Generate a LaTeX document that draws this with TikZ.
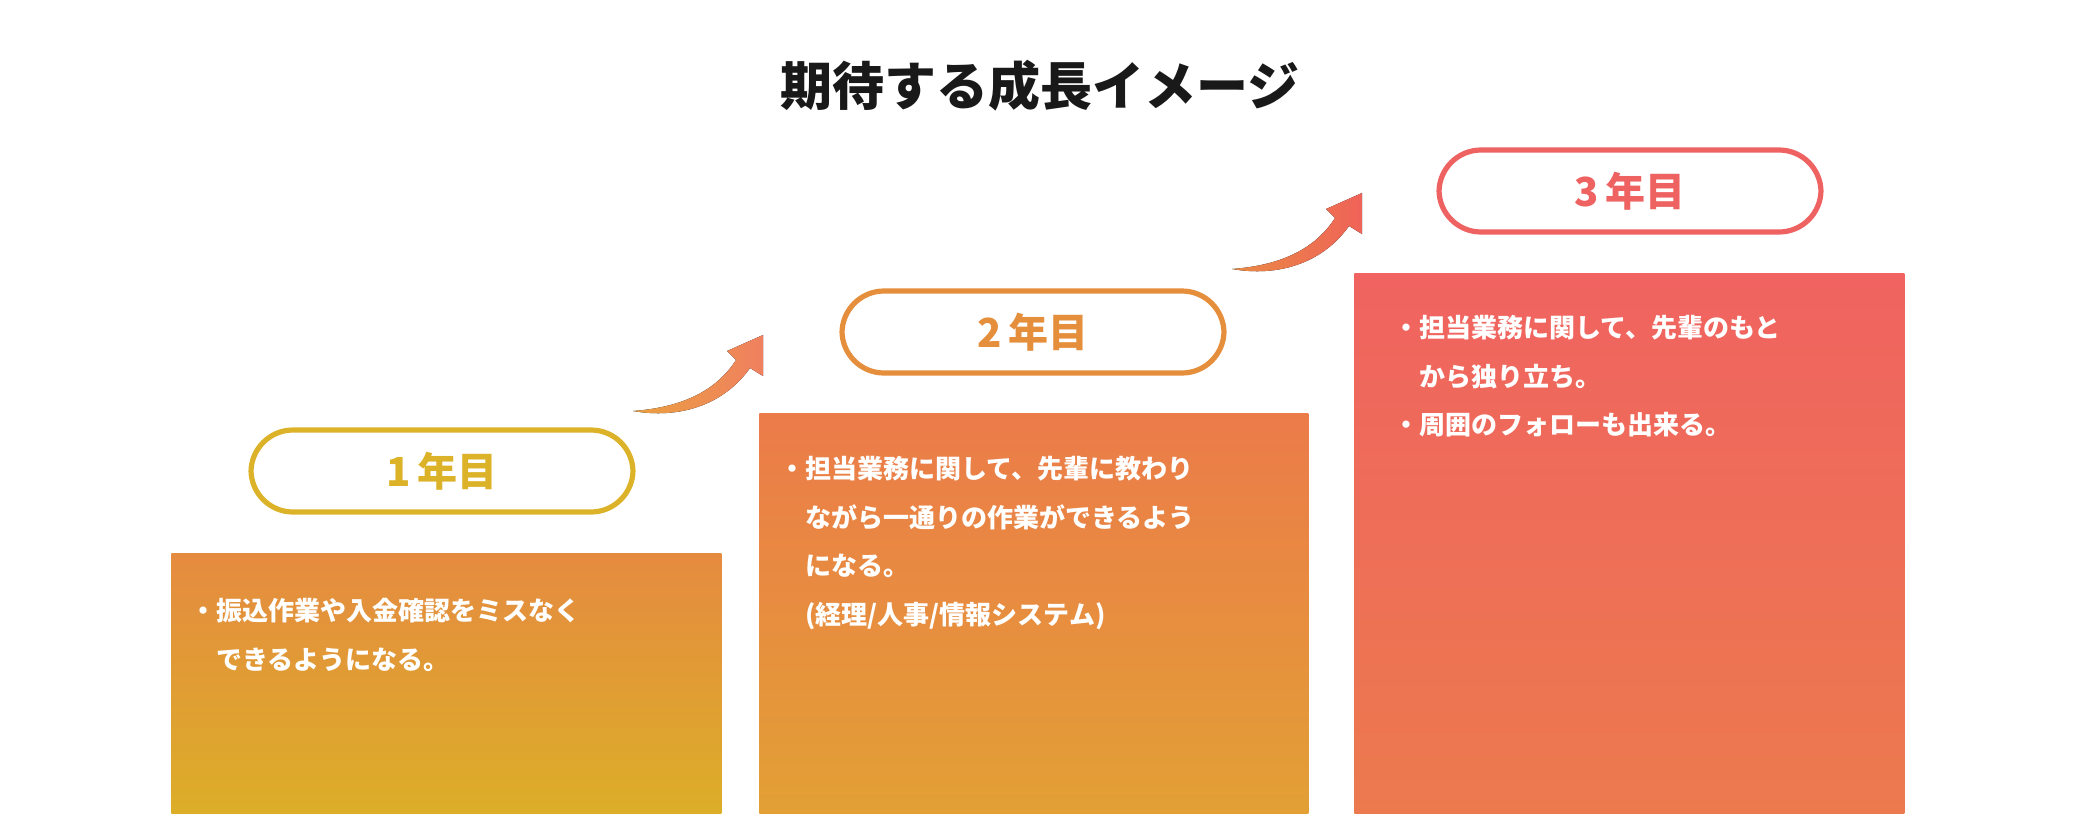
\documentclass[tikz,border=0pt]{standalone}
\usepackage{fontspec}
\setmainfont{Noto Sans CJK JP}
\usetikzlibrary{positioning}
\definecolor{yOne}{HTML}{DCB228}
\definecolor{yTwo}{HTML}{E58E3C}
\definecolor{yThree}{HTML}{EE6262}
\tikzset{
  pill/.style={draw, line width=2.6pt, fill=white, rounded corners=21pt, minimum width=191pt, minimum height=41pt, font=\fontsize{20pt}{20pt}\selectfont\bfseries},
  stepbox/.style={anchor=north west, inner sep=0pt, shade},
  boxtext/.style={anchor=north west, inner sep=0pt, text=white, align=left, font=\fontsize{13pt}{24.3pt}\selectfont\bfseries},
}
\newcommand{\growarrow}[3]{% tail, left colour, right colour
  \begin{scope}[shift={#1}]
    \fill[left color=#2, right color=#3] (0,0) .. controls (45,8) and (90,-5) .. (117,-43)
      -- (130,-35) -- (130,-76) -- (94,-60) -- (103,-51)
      .. controls (80,-15) and (40,-3) .. (0,0) -- cycle;
  \end{scope}}
\begin{document}
\begin{tikzpicture}[x=0.5pt,y=-0.5pt]
  \useasboundingbox (0,0) rectangle (2078,814);

  \node[font=\fontsize{26pt}{26pt}\selectfont\bfseries, text=black!90] (title) at (1040,86) {期待する成長イメージ};

  % steps
  \node[stepbox, top color={rgb,255:red,229;green,139;blue,64}, bottom color={rgb,255:red,220;green,174;blue,40}, minimum width=275pt, minimum height=130.5pt] (box1) at (171,553) {};
  \node[stepbox, top color={rgb,255:red,236;green,123;blue,74}, bottom color={rgb,255:red,226;green,160;blue,53}, minimum width=274.5pt, minimum height=200.5pt] (box2) at (759,413) {};
  \node[stepbox, top color={rgb,255:red,240;green,99;blue,96}, bottom color={rgb,255:red,236;green,122;blue,78}, minimum width=275pt, minimum height=270.5pt] (box3) at (1354,273) {};

  \node[pill, draw=yOne, text=yOne] (year1) at (442,471) {1\,年目};
  \node[pill, draw=yTwo, text=yTwo] (year2) at (1033,332) {2\,年目};
  \node[pill, draw=yThree, text=yThree] (year3) at (1630,191) {3\,年目};

  \node[boxtext] (text1) at (190,598) {・振込作業や入金確認をミスなく\\\phantom{・}できるようになる。};
  \node[boxtext] (text2) at (779,456) {・担当業務に関して、先輩に教わり\\\phantom{・}ながら一通りの作業ができるよう\\\phantom{・}になる。\\\phantom{・}(経理/人事/情報システム)};
  \node[boxtext] (text3) at (1393,315) {・担当業務に関して、先輩のもと\\\phantom{・}から独り立ち。\\・周囲のフォローも出来る。};

  % arrows
  \coordinate (tail1) at (633,411);
  \coordinate (tail2) at (1232,269);
  \growarrow{(tail1)}{{rgb,255:red,234;green,160;blue,64}}{{rgb,255:red,240;green,128;blue,96}}
  \growarrow{(tail2)}{{rgb,255:red,234;green,138;blue,69}}{{rgb,255:red,239;green,99;blue,88}}
\end{tikzpicture}
\end{document}
